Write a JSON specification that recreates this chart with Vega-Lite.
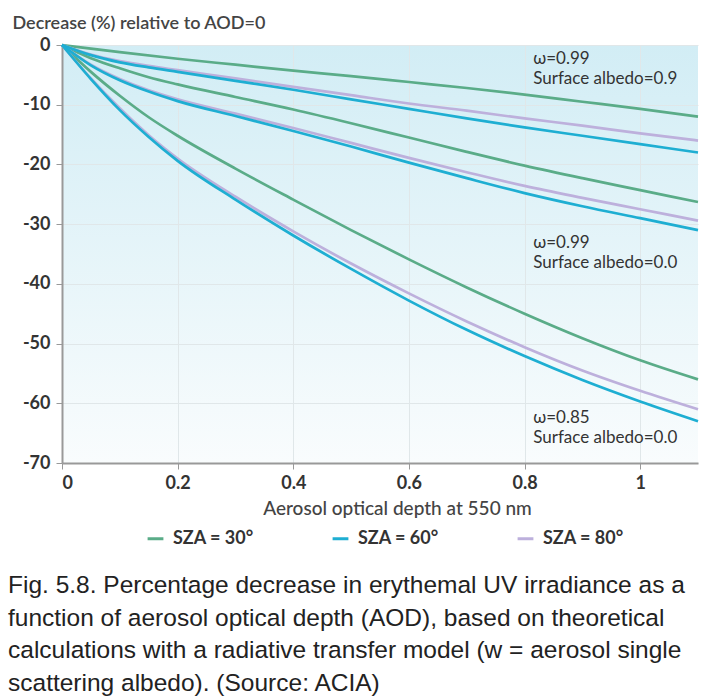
{
  "$schema": "https://vega.github.io/schema/vega-lite/v6.json",
  "width": 636,
  "height": 418,
  "autosize": {"type": "none"},
  "padding": {"left": 62, "top": 45, "right": 5, "bottom": 233},
  "background": "#ffffff",
  "config": {
    "view": {"stroke": null, "fill": {"gradient": "linear", "x1": 0, "y1": 0, "x2": 0, "y2": 1, "stops": [{"offset": 0, "color": "#d2edf5"}, {"offset": 1, "color": "#f9fcfd"}]}},
    "font": "Lato"
  },
  "title": {
    "text": ["Fig. 5.8. Percentage decrease in erythemal UV irradiance as a", "function of aerosol optical depth (AOD), based on theoretical", "calculations with a radiative transfer model (w = aerosol single", "scattering albedo). (Source: ACIA)"],
    "orient": "bottom",
    "anchor": "start",
    "frame": "group",
    "dx": -54,
    "offset": 26,
    "font": "Liberation Sans",
    "fontSize": 24.5,
    "fontWeight": "normal",
    "color": "#222222",
    "lineHeight": 32.5,
    "baseline": "top"
  },
  "layer": [
    {
      "data": {"values": [
        {"x": 0, "y": 0, "sza": "SZA = 30°", "group": "a"},
        {"x": 0.05, "y": -0.6, "sza": "SZA = 30°", "group": "a"},
        {"x": 0.1, "y": -1.2, "sza": "SZA = 30°", "group": "a"},
        {"x": 0.2, "y": -2.3, "sza": "SZA = 30°", "group": "a"},
        {"x": 0.3, "y": -3.3, "sza": "SZA = 30°", "group": "a"},
        {"x": 0.4, "y": -4.3, "sza": "SZA = 30°", "group": "a"},
        {"x": 0.5, "y": -5.2, "sza": "SZA = 30°", "group": "a"},
        {"x": 0.6, "y": -6.2, "sza": "SZA = 30°", "group": "a"},
        {"x": 0.7, "y": -7.2, "sza": "SZA = 30°", "group": "a"},
        {"x": 0.8, "y": -8.3, "sza": "SZA = 30°", "group": "a"},
        {"x": 0.9, "y": -9.5, "sza": "SZA = 30°", "group": "a"},
        {"x": 1.0, "y": -10.7, "sza": "SZA = 30°", "group": "a"},
        {"x": 1.1, "y": -12.0, "sza": "SZA = 30°", "group": "a"},
        {"x": 0, "y": 0, "sza": "SZA = 30°", "group": "b"},
        {"x": 0.05, "y": -2.2, "sza": "SZA = 30°", "group": "b"},
        {"x": 0.1, "y": -3.9, "sza": "SZA = 30°", "group": "b"},
        {"x": 0.15, "y": -5.4, "sza": "SZA = 30°", "group": "b"},
        {"x": 0.2, "y": -6.6, "sza": "SZA = 30°", "group": "b"},
        {"x": 0.3, "y": -8.7, "sza": "SZA = 30°", "group": "b"},
        {"x": 0.4, "y": -10.8, "sza": "SZA = 30°", "group": "b"},
        {"x": 0.5, "y": -13.1, "sza": "SZA = 30°", "group": "b"},
        {"x": 0.6, "y": -15.5, "sza": "SZA = 30°", "group": "b"},
        {"x": 0.7, "y": -17.9, "sza": "SZA = 30°", "group": "b"},
        {"x": 0.8, "y": -20.2, "sza": "SZA = 30°", "group": "b"},
        {"x": 0.9, "y": -22.3, "sza": "SZA = 30°", "group": "b"},
        {"x": 1.0, "y": -24.3, "sza": "SZA = 30°", "group": "b"},
        {"x": 1.1, "y": -26.3, "sza": "SZA = 30°", "group": "b"},
        {"x": 0, "y": 0, "sza": "SZA = 30°", "group": "c"},
        {"x": 0.05, "y": -4.5, "sza": "SZA = 30°", "group": "c"},
        {"x": 0.1, "y": -8.5, "sza": "SZA = 30°", "group": "c"},
        {"x": 0.15, "y": -12.1, "sza": "SZA = 30°", "group": "c"},
        {"x": 0.2, "y": -15.2, "sza": "SZA = 30°", "group": "c"},
        {"x": 0.3, "y": -20.7, "sza": "SZA = 30°", "group": "c"},
        {"x": 0.4, "y": -25.9, "sza": "SZA = 30°", "group": "c"},
        {"x": 0.5, "y": -31.0, "sza": "SZA = 30°", "group": "c"},
        {"x": 0.6, "y": -35.9, "sza": "SZA = 30°", "group": "c"},
        {"x": 0.7, "y": -40.6, "sza": "SZA = 30°", "group": "c"},
        {"x": 0.8, "y": -45.0, "sza": "SZA = 30°", "group": "c"},
        {"x": 0.9, "y": -49.1, "sza": "SZA = 30°", "group": "c"},
        {"x": 1.0, "y": -52.8, "sza": "SZA = 30°", "group": "c"},
        {"x": 1.1, "y": -56.0, "sza": "SZA = 30°", "group": "c"},
        {"x": 0, "y": 0, "sza": "SZA = 80°", "group": "a"},
        {"x": 0.05, "y": -1.6, "sza": "SZA = 80°", "group": "a"},
        {"x": 0.1, "y": -2.7, "sza": "SZA = 80°", "group": "a"},
        {"x": 0.15, "y": -3.5, "sza": "SZA = 80°", "group": "a"},
        {"x": 0.2, "y": -4.2, "sza": "SZA = 80°", "group": "a"},
        {"x": 0.3, "y": -5.6, "sza": "SZA = 80°", "group": "a"},
        {"x": 0.4, "y": -7.0, "sza": "SZA = 80°", "group": "a"},
        {"x": 0.5, "y": -8.4, "sza": "SZA = 80°", "group": "a"},
        {"x": 0.6, "y": -9.8, "sza": "SZA = 80°", "group": "a"},
        {"x": 0.7, "y": -11.0, "sza": "SZA = 80°", "group": "a"},
        {"x": 0.8, "y": -12.3, "sza": "SZA = 80°", "group": "a"},
        {"x": 0.9, "y": -13.5, "sza": "SZA = 80°", "group": "a"},
        {"x": 1.0, "y": -14.8, "sza": "SZA = 80°", "group": "a"},
        {"x": 1.1, "y": -16.0, "sza": "SZA = 80°", "group": "a"},
        {"x": 0, "y": 0, "sza": "SZA = 80°", "group": "b"},
        {"x": 0.05, "y": -3.3, "sza": "SZA = 80°", "group": "b"},
        {"x": 0.1, "y": -5.7, "sza": "SZA = 80°", "group": "b"},
        {"x": 0.15, "y": -7.6, "sza": "SZA = 80°", "group": "b"},
        {"x": 0.2, "y": -9.1, "sza": "SZA = 80°", "group": "b"},
        {"x": 0.3, "y": -11.5, "sza": "SZA = 80°", "group": "b"},
        {"x": 0.4, "y": -13.9, "sza": "SZA = 80°", "group": "b"},
        {"x": 0.5, "y": -16.4, "sza": "SZA = 80°", "group": "b"},
        {"x": 0.6, "y": -18.9, "sza": "SZA = 80°", "group": "b"},
        {"x": 0.7, "y": -21.3, "sza": "SZA = 80°", "group": "b"},
        {"x": 0.8, "y": -23.6, "sza": "SZA = 80°", "group": "b"},
        {"x": 0.9, "y": -25.6, "sza": "SZA = 80°", "group": "b"},
        {"x": 1.0, "y": -27.5, "sza": "SZA = 80°", "group": "b"},
        {"x": 1.1, "y": -29.4, "sza": "SZA = 80°", "group": "b"},
        {"x": 0, "y": 0, "sza": "SZA = 80°", "group": "c"},
        {"x": 0.05, "y": -5.6, "sza": "SZA = 80°", "group": "c"},
        {"x": 0.1, "y": -10.6, "sza": "SZA = 80°", "group": "c"},
        {"x": 0.15, "y": -15.1, "sza": "SZA = 80°", "group": "c"},
        {"x": 0.2, "y": -19.0, "sza": "SZA = 80°", "group": "c"},
        {"x": 0.3, "y": -25.4, "sza": "SZA = 80°", "group": "c"},
        {"x": 0.4, "y": -31.2, "sza": "SZA = 80°", "group": "c"},
        {"x": 0.5, "y": -36.6, "sza": "SZA = 80°", "group": "c"},
        {"x": 0.6, "y": -41.6, "sza": "SZA = 80°", "group": "c"},
        {"x": 0.7, "y": -46.3, "sza": "SZA = 80°", "group": "c"},
        {"x": 0.8, "y": -50.6, "sza": "SZA = 80°", "group": "c"},
        {"x": 0.9, "y": -54.5, "sza": "SZA = 80°", "group": "c"},
        {"x": 1.0, "y": -57.9, "sza": "SZA = 80°", "group": "c"},
        {"x": 1.1, "y": -61.0, "sza": "SZA = 80°", "group": "c"},
        {"x": 0, "y": 0, "sza": "SZA = 60°", "group": "a"},
        {"x": 0.05, "y": -1.7, "sza": "SZA = 60°", "group": "a"},
        {"x": 0.1, "y": -2.9, "sza": "SZA = 60°", "group": "a"},
        {"x": 0.15, "y": -3.75, "sza": "SZA = 60°", "group": "a"},
        {"x": 0.2, "y": -4.5, "sza": "SZA = 60°", "group": "a"},
        {"x": 0.3, "y": -6.0, "sza": "SZA = 60°", "group": "a"},
        {"x": 0.4, "y": -7.5, "sza": "SZA = 60°", "group": "a"},
        {"x": 0.5, "y": -9.1, "sza": "SZA = 60°", "group": "a"},
        {"x": 0.6, "y": -10.7, "sza": "SZA = 60°", "group": "a"},
        {"x": 0.7, "y": -12.3, "sza": "SZA = 60°", "group": "a"},
        {"x": 0.8, "y": -13.8, "sza": "SZA = 60°", "group": "a"},
        {"x": 0.9, "y": -15.2, "sza": "SZA = 60°", "group": "a"},
        {"x": 1.0, "y": -16.6, "sza": "SZA = 60°", "group": "a"},
        {"x": 1.1, "y": -18.0, "sza": "SZA = 60°", "group": "a"},
        {"x": 0, "y": 0, "sza": "SZA = 60°", "group": "b"},
        {"x": 0.05, "y": -3.4, "sza": "SZA = 60°", "group": "b"},
        {"x": 0.1, "y": -5.9, "sza": "SZA = 60°", "group": "b"},
        {"x": 0.15, "y": -7.8, "sza": "SZA = 60°", "group": "b"},
        {"x": 0.2, "y": -9.4, "sza": "SZA = 60°", "group": "b"},
        {"x": 0.3, "y": -11.9, "sza": "SZA = 60°", "group": "b"},
        {"x": 0.4, "y": -14.4, "sza": "SZA = 60°", "group": "b"},
        {"x": 0.5, "y": -17.0, "sza": "SZA = 60°", "group": "b"},
        {"x": 0.6, "y": -19.7, "sza": "SZA = 60°", "group": "b"},
        {"x": 0.7, "y": -22.3, "sza": "SZA = 60°", "group": "b"},
        {"x": 0.8, "y": -24.8, "sza": "SZA = 60°", "group": "b"},
        {"x": 0.9, "y": -27.0, "sza": "SZA = 60°", "group": "b"},
        {"x": 1.0, "y": -29.0, "sza": "SZA = 60°", "group": "b"},
        {"x": 1.1, "y": -31.0, "sza": "SZA = 60°", "group": "b"},
        {"x": 0, "y": 0, "sza": "SZA = 60°", "group": "c"},
        {"x": 0.05, "y": -5.7, "sza": "SZA = 60°", "group": "c"},
        {"x": 0.1, "y": -10.9, "sza": "SZA = 60°", "group": "c"},
        {"x": 0.15, "y": -15.4, "sza": "SZA = 60°", "group": "c"},
        {"x": 0.2, "y": -19.4, "sza": "SZA = 60°", "group": "c"},
        {"x": 0.3, "y": -25.9, "sza": "SZA = 60°", "group": "c"},
        {"x": 0.4, "y": -31.9, "sza": "SZA = 60°", "group": "c"},
        {"x": 0.5, "y": -37.5, "sza": "SZA = 60°", "group": "c"},
        {"x": 0.6, "y": -42.8, "sza": "SZA = 60°", "group": "c"},
        {"x": 0.7, "y": -47.7, "sza": "SZA = 60°", "group": "c"},
        {"x": 0.8, "y": -52.1, "sza": "SZA = 60°", "group": "c"},
        {"x": 0.9, "y": -56.1, "sza": "SZA = 60°", "group": "c"},
        {"x": 1.0, "y": -59.7, "sza": "SZA = 60°", "group": "c"},
        {"x": 1.1, "y": -63.0, "sza": "SZA = 60°", "group": "c"}
      ]},
      "mark": {"type": "line", "strokeWidth": 2.7, "interpolate": "monotone"},
      "encoding": {
        "x": {
          "field": "x", "type": "quantitative",
          "scale": {"domain": [0, 1.1], "nice": false, "zero": false},
          "axis": {
            "values": [0, 0.2, 0.4, 0.6, 0.8, 1], "format": ".1~f",
            "title": "Aerosol optical depth at 550 nm",
            "titleX": 335, "titleY": 45, "titleAlign": "center", "titleBaseline": "middle",
            "titleFont": "Lato", "titleFontSize": 19, "titleFontWeight": 500, "titleColor": "#444444",
            "labelFont": "Lato", "labelFontSize": 18, "labelFontWeight": "bold", "labelColor": "#333333", "labelPadding": 5,
            "tickSize": 6, "tickColor": "#999999", "domainColor": "#999999", "domainWidth": 2,
            "grid": true, "gridColor": "#e0e7e9"
          }
        },
        "y": {
          "field": "y", "type": "quantitative",
          "scale": {"domain": [-70, 0], "nice": false, "zero": false},
          "axis": {
            "values": [-70, -60, -50, -40, -30, -20, -10, 0],
            "labelExpr": "datum.value < 0 ? '-' + (-datum.value) : '0'",
            "title": "Decrease (%) relative to AOD=0",
            "titleAngle": 0, "titleAlign": "left", "titleBaseline": "middle", "titleX": -50, "titleY": -22,
            "titleFont": "Lato", "titleFontSize": 18, "titleFontWeight": 600, "titleColor": "#444444",
            "labelFont": "Lato", "labelFontSize": 18, "labelFontWeight": "bold", "labelColor": "#333333", "labelPadding": 6,
            "tickSize": 6, "tickColor": "#999999", "domainColor": "#999999", "domainWidth": 2,
            "grid": true, "gridColor": "#e0e7e9"
          }
        },
        "color": {
          "field": "sza", "type": "nominal",
          "scale": {"domain": ["SZA = 30°", "SZA = 60°", "SZA = 80°"], "range": ["#5aac88", "#1eaed2", "#bdb0dc"]},
          "legend": {
            "title": null, "orient": "none", "legendX": 84, "legendY": 484, "direction": "horizontal",
            "symbolType": "stroke", "symbolStrokeWidth": 3, "symbolSize": 250,
            "labelFont": "Lato", "labelFontSize": 18, "labelFontWeight": "bold", "labelColor": "#333333",
            "columnPadding": 72, "labelOffset": 8
          }
        },
        "detail": {"field": "group", "type": "nominal"}
      }
    },
    {
      "data": {"values": [{}]},
      "mark": {"type": "text", "text": ["ω=0.99", "Surface albedo=0.9"], "align": "left", "baseline": "top", "font": "Lato", "fontSize": 17, "lineHeight": 20, "color": "#333333"},
      "encoding": {"x": {"datum": 0.815}, "y": {"datum": -1.0}}
    },
    {
      "data": {"values": [{}]},
      "mark": {"type": "text", "text": ["ω=0.99", "Surface albedo=0.0"], "align": "left", "baseline": "top", "font": "Lato", "fontSize": 17, "lineHeight": 20, "color": "#333333"},
      "encoding": {"x": {"datum": 0.815}, "y": {"datum": -31.8}}
    },
    {
      "data": {"values": [{}]},
      "mark": {"type": "text", "text": ["ω=0.85", "Surface albedo=0.0"], "align": "left", "baseline": "top", "font": "Lato", "fontSize": 17, "lineHeight": 20, "color": "#333333"},
      "encoding": {"x": {"datum": 0.815}, "y": {"datum": -61.1}}
    }
  ]
}
